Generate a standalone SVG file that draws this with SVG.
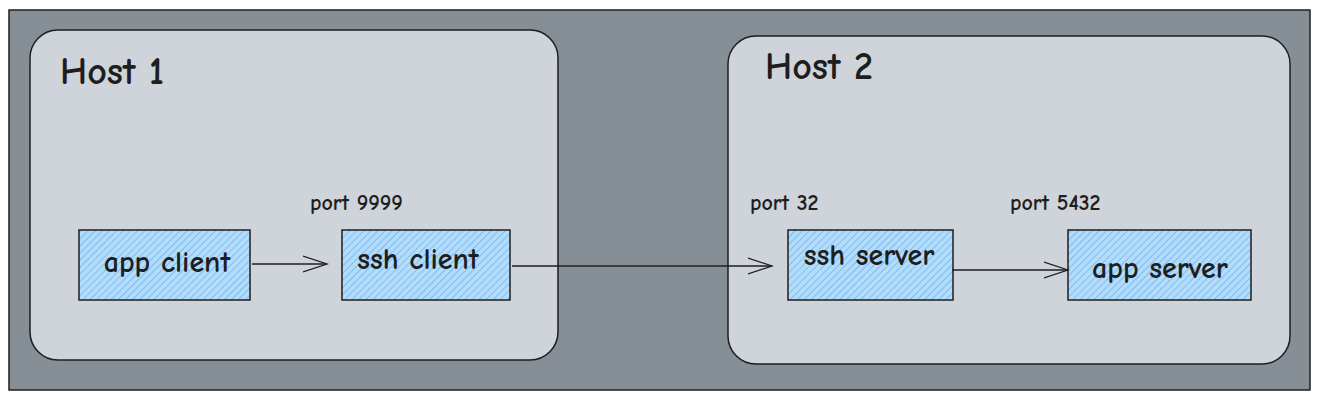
<svg xmlns="http://www.w3.org/2000/svg" width="1320" height="400" viewBox="0 0 1320 400">
<defs>
<pattern id="hatch" patternUnits="userSpaceOnUse" width="5" height="5" patternTransform="rotate(45)">
<rect width="5" height="5" fill="#b3dcfb"/>
<line x1="0" y1="0" x2="0" y2="5" stroke="#5aa9ef" stroke-width="1.2"/>
</pattern>
<marker id="arr" markerWidth="26" markerHeight="22" refX="24" refY="11" orient="auto" markerUnits="userSpaceOnUse">
<path d="M0,3 L24,11 L0,19" fill="none" stroke="#1e1e1e" stroke-width="1.3"/>
</marker>
</defs>
<style>
.host{fill:#ced4da;stroke:#1e1e1e;stroke-width:1.5}
.box{fill:url(#hatch);stroke:#1e1e1e;stroke-width:1.5}
.conn{fill:none;stroke:#1e1e1e;stroke-width:1.3}
text{font-family:"Comic Neue","Liberation Sans",sans-serif;fill:#1e1e1e;font-weight:bold}
.h{font-size:38px}
.b{font-size:30px;text-anchor:middle}
.p{font-size:22px}
</style>
<rect x="0" y="0" width="1320" height="400" fill="#ffffff"/>
<rect x="9" y="10" width="1301" height="380" fill="#868e96" stroke="#1e1e1e" stroke-width="1.5"/>
<g id="host1">
<rect class="host" x="30" y="30" width="528" height="330" rx="28"/>
<text class="h" x="60" y="84">Host 1</text>
</g>
<g id="host2">
<rect class="host" x="728" y="36" width="562" height="328" rx="28"/>
<text class="h" x="765" y="79">Host 2</text>
</g>
<g id="app-client">
<rect class="box" x="79" y="230" width="171" height="70"/>
<text class="b" x="167" y="272">app client</text>
</g>
<g id="ssh-client">
<rect class="box" x="342" y="230" width="168" height="70"/>
<text class="b" x="418" y="269">ssh client</text>
<text class="p" x="310" y="210">port 9999</text>
</g>
<g id="ssh-server">
<rect class="box" x="788" y="230" width="165" height="70"/>
<text class="b" x="869" y="265">ssh server</text>
<text class="p" x="750" y="210">port 32</text>
</g>
<g id="app-server">
<rect class="box" x="1068" y="230" width="183" height="70"/>
<text class="b" x="1160" y="278">app server</text>
<text class="p" x="1010" y="210">port 5432</text>
</g>
<g id="connectors">
<line class="conn" x1="252" y1="264" x2="327" y2="264" marker-end="url(#arr)"/>
<line class="conn" x1="512" y1="266" x2="772" y2="266" marker-end="url(#arr)"/>
<line class="conn" x1="952" y1="270" x2="1068" y2="270" marker-end="url(#arr)"/>
</g>
</svg>
